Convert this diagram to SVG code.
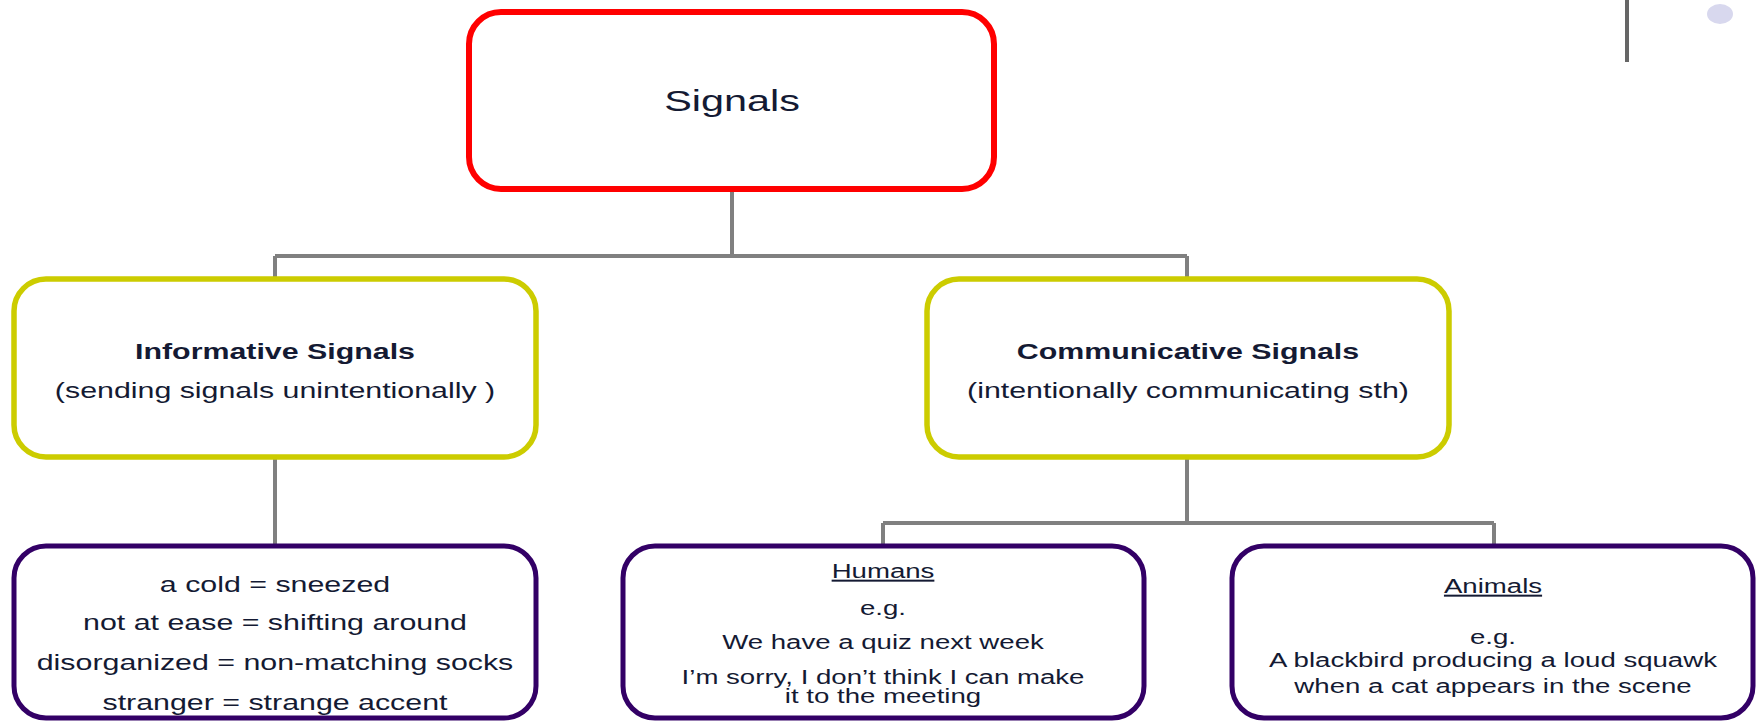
<svg xmlns="http://www.w3.org/2000/svg" width="1760" height="722" viewBox="0 0 1760 722">
<style>
text{font-family:"Liberation Sans",Arial,sans-serif;fill:#141a33;text-anchor:middle}
.t30{font-size:30px}
.t22{font-size:22px}
.t20{font-size:20px}
.b{font-weight:bold}
.u{text-decoration:underline}
.red{fill:#fff;stroke:#ff0000;stroke-width:6}
.yel{fill:#fff;stroke:#cccc00;stroke-width:5.5}
.pur{fill:#fff;stroke:#330066;stroke-width:5}
.con{fill:none;stroke:#808080;stroke-width:4}
</style>
<rect width="1760" height="722" fill="#fff"/>
<line x1="1627" y1="0" x2="1627" y2="62" stroke="#666" stroke-width="4"/>
<ellipse cx="1720" cy="14" rx="13" ry="10" fill="#d8d8ee"/>
<g id="connectors">
<path class="con" d="M732 189 V256 M275 256 H1187 M275 256 V278 M1187 256 V278"/>
<path class="con" d="M275 457 V544"/>
<path class="con" d="M1187 457 V523 M883 523 H1494 M883 523 V544 M1494 523 V544"/>
</g>
<g id="signals">
<rect class="red" x="469" y="12" width="525" height="177" rx="32"/>
<text class="t30" transform="translate(732 111) scale(1.38 1)">Signals</text>
</g>
<g id="informative">
<rect class="yel" x="14" y="279" width="522" height="178" rx="32"/>
<text class="t22 b" transform="translate(275 359) scale(1.38 1)">Informative Signals</text>
<text class="t22" transform="translate(275 398) scale(1.38 1)">(sending signals unintentionally )</text>
</g>
<g id="communicative">
<rect class="yel" x="927" y="279" width="522" height="178" rx="32"/>
<text class="t22 b" transform="translate(1188 359) scale(1.38 1)">Communicative Signals</text>
<text class="t22" transform="translate(1188 398) scale(1.38 1)">(intentionally communicating sth)</text>
</g>
<g id="informative-examples">
<rect class="pur" x="14" y="546" width="522" height="172" rx="32"/>
<text class="t22" transform="translate(275 592) scale(1.38 1)">a cold = sneezed</text>
<text class="t22" transform="translate(275 630) scale(1.38 1)">not at ease = shifting around</text>
<text class="t22" transform="translate(275 670) scale(1.38 1)">disorganized = non-matching socks</text>
<text class="t22" transform="translate(275 710) scale(1.38 1)">stranger = strange accent</text>
</g>
<g id="humans">
<rect class="pur" x="623" y="546" width="521" height="172" rx="32"/>
<text class="t20 u" transform="translate(883 578) scale(1.38 1)">Humans</text>
<text class="t20" transform="translate(883 615) scale(1.38 1)">e.g.</text>
<text class="t20" transform="translate(883 649) scale(1.38 1)">We have a quiz next week</text>
<text class="t20" transform="translate(883 684) scale(1.38 1)">I’m sorry, I don’t think I can make</text>
<text class="t20" transform="translate(883 703) scale(1.38 1)">it to the meeting</text>
</g>
<g id="animals">
<rect class="pur" x="1232" y="546" width="521" height="172" rx="32"/>
<text class="t20 u" transform="translate(1493 593) scale(1.38 1)">Animals</text>
<text class="t20" transform="translate(1493 644) scale(1.38 1)">e.g.</text>
<text class="t20" transform="translate(1493 667) scale(1.38 1)">A blackbird producing a loud squawk</text>
<text class="t20" transform="translate(1493 693) scale(1.38 1)">when a cat appears in the scene</text>
</g>
</svg>
